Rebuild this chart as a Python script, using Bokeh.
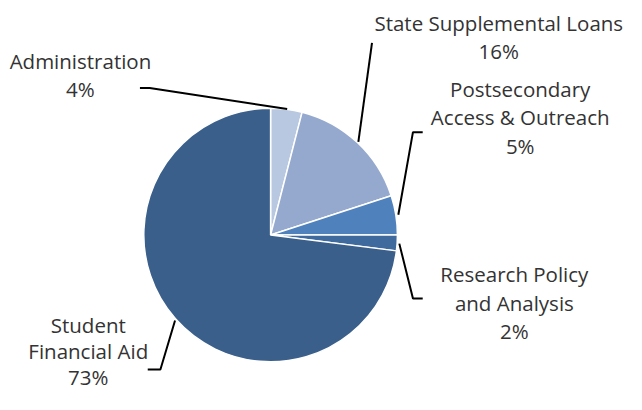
import numpy as np
from bokeh.plotting import figure
from bokeh.models import ColumnDataSource
from bokeh.core.properties import value
from bokeh.embed import file_html
from bokeh.resources import INLINE

# ---- data ----
categories = ["Administration", "State Supplemental Loans",
              "Postsecondary Access & Outreach", "Research Policy and Analysis",
              "Student Financial Aid"]
shares = [4, 16, 5, 2, 73]
colors = ["#B9C8E1", "#95A9CF", "#4F81BD", "#3F6A9E", "#3A5F8B"]
label_lines = [["Administration", "4%"],
               ["State Supplemental Loans", "16%"],
               ["Postsecondary", "Access & Outreach", "5%"],
               ["Research Policy", "and Analysis", "2%"],
               ["Student", "Financial Aid", "73%"]]

W, H = 626, 394
SX, SY = W / 642, H / 410

def X(ix):
    return ix * SX

def Y(iy):
    return H - iy * SY

p = figure(width=W, height=H, x_range=(0, W), y_range=(0, H),
           output_backend="svg", toolbar_location=None, min_border=0)
p.axis.visible = False
p.grid.visible = False
p.outline_line_color = None
p.background_fill_color = "white"
p.border_fill_color = "white"

vals = np.array(shares, dtype=float)
frac = vals / vals.sum()
cum = np.concatenate([[0], np.cumsum(frac)])
start = np.pi / 2 - cum[:-1] * 2 * np.pi
end = np.pi / 2 - cum[1:] * 2 * np.pi

cx, cy, r = X(277), Y(244), 131 * (SX + SY) / 2
src = ColumnDataSource(dict(start=start, end=end, color=colors, cat=categories))
p.wedge(x=cx, y=cy, radius=r, radius_units="screen", start_angle="start",
        end_angle="end", direction="clock", fill_color="color",
        line_color="white", line_width=1.5, source=src)

# leader lines (reference pixel coords)
leaders = [
    [(143, 91), (153, 91), (294, 113)],
    [(381, 44), (367, 147)],
    [(433, 137), (423, 137), (408, 223)],
    [(409, 253), (423, 310), (433, 310)],
    [(179, 333), (164, 384), (151, 384)],
]
for pts in leaders:
    p.line([X(a) for a, b in pts], [Y(b) for a, b in pts], line_color="black",
           line_width=2)

# labels: centre x, first-line y, line spacing (reference pixels)
label_pos = [(82, 63, 29.5), (511, 23, 29.5), (533, 92, 29.5),
             (527, 285, 29.5), (90, 338, 27)]
tx, ty, tt = [], [], []
for (lx, ly, lh), lines in zip(label_pos, label_lines):
    for i, t in enumerate(lines):
        tx.append(X(lx))
        ty.append(Y(ly + i * lh))
        tt.append(t)
p.text(x=tx, y=ty, text=tt, text_align="center", text_baseline="middle",
       text_font=value("Open Sans"), text_font_size="20.5px", text_color="#333333")

open("out.html", "w").write(file_html(p, INLINE))
